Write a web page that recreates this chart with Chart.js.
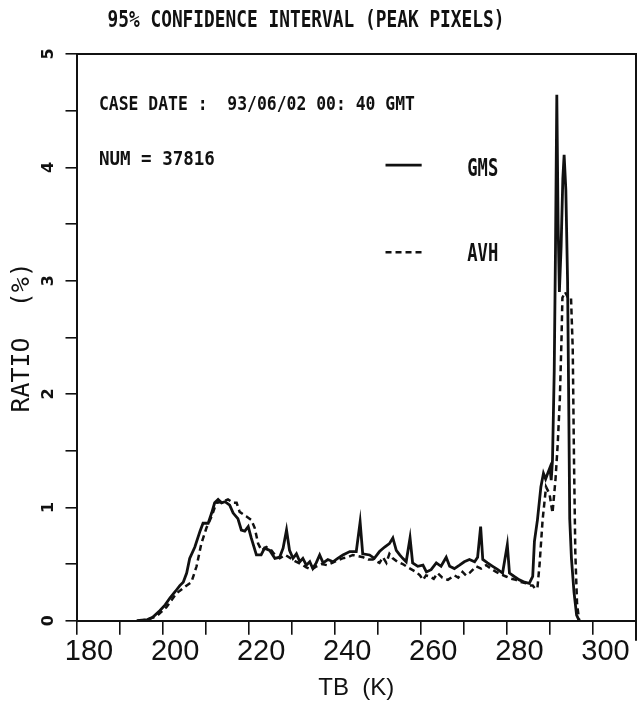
<!DOCTYPE html>
<html>
<head>
<meta charset="utf-8">
<script src="https://cdn.jsdelivr.net/npm/chart.js@4"></script>
<style>
html,body{margin:0;padding:0;background:#fff;}
#wrap{width:642px;height:703px;}
</style>
</head>
<body>
<div id="wrap"><canvas id="c" width="642" height="703"></canvas></div>
<script>
// ---------------- data ----------------
const xTickLabels = [180, 200, 220, 240, 260, 280, 300];
const yTickLabels = [0, 1, 2, 3, 4, 5];

const gmsTB = [194.0,196.5,197.7,199.4,200.6,201.7,203.0,204.0,204.8,205.6,206.3,207.5,208.7,209.4,210.6,211.4,212.1,212.9,213.7,214.5,215.6,216.4,217.5,218.3,219.1,219.9,220.6,221.8,222.9,223.7,224.9,226.1,227.2,228.0,228.8,229.5,230.3,231.1,231.9,232.6,233.4,234.2,234.9,235.7,236.5,237.3,238.4,239.6,240.7,241.9,243.5,245.0,245.9,246.5,248.1,249.2,250.4,251.6,252.7,253.5,254.3,255.1,255.8,256.6,257.5,258.1,259.3,260.5,261.3,262.4,263.6,264.7,265.9,266.7,267.8,269.0,270.1,271.3,272.5,273.2,273.9,274.4,275.5,276.7,277.9,279.0,280.1,280.6,281.7,282.9,284.1,285.2,286.0,286.4,287.1,287.9,288.5,289.0,289.5,290.0,290.3,290.6,291.0,291.3,291.6,291.9,292.2,292.6,293.0,293.3,293.7,294.1,294.4,294.6,295.0,295.6,296.2,296.8];
const gmsRatio = [0.00,0.01,0.03,0.09,0.14,0.20,0.26,0.31,0.34,0.42,0.55,0.65,0.79,0.86,0.86,0.95,1.04,1.07,1.04,1.05,1.02,0.95,0.90,0.80,0.79,0.83,0.73,0.58,0.58,0.64,0.62,0.55,0.56,0.64,0.80,0.62,0.55,0.59,0.52,0.55,0.49,0.52,0.46,0.51,0.58,0.51,0.54,0.52,0.55,0.58,0.61,0.61,0.87,0.59,0.58,0.55,0.61,0.65,0.68,0.73,0.62,0.58,0.55,0.52,0.73,0.51,0.48,0.49,0.43,0.45,0.51,0.48,0.56,0.48,0.46,0.49,0.52,0.54,0.52,0.56,0.83,0.54,0.51,0.48,0.45,0.42,0.67,0.42,0.39,0.36,0.34,0.33,0.39,0.70,0.89,1.18,1.30,1.25,1.30,1.35,1.24,1.42,2.20,3.30,4.64,3.50,2.90,3.30,3.90,4.11,3.80,3.00,1.80,0.90,0.55,0.25,0.05,0.00];

const avhTB = [194.5,196.5,198.6,200.9,203.2,205.2,206.7,207.9,209.0,210.2,211.4,212.5,214.1,215.2,216.4,217.2,217.9,219.5,220.6,221.4,222.2,223.0,224.1,225.3,226.1,227.2,228.5,229.8,231.0,232.2,233.4,234.6,235.8,237.0,238.2,239.4,240.6,241.8,243.0,244.2,245.4,246.6,247.8,248.9,250.4,251.2,252.0,252.7,253.5,254.6,255.8,257.0,258.9,259.8,260.5,261.2,262.0,263.0,263.9,265.0,266.3,267.8,268.7,269.7,270.5,271.3,272.1,272.9,274.0,275.2,276.3,277.5,278.6,279.8,281.0,282.1,283.3,284.5,285.3,286.0,286.6,287.1,287.6,288.3,289.1,289.9,290.6,291.3,291.8,292.3,292.7,292.9,293.5,294.2,294.9,295.3,295.6,295.9,296.3,296.8];
const avhRatio = [0.00,0.01,0.04,0.12,0.24,0.30,0.34,0.48,0.68,0.82,0.92,1.04,1.05,1.07,1.04,1.04,0.96,0.92,0.89,0.82,0.68,0.62,0.65,0.62,0.58,0.55,0.58,0.55,0.52,0.50,0.47,0.45,0.48,0.50,0.49,0.51,0.53,0.55,0.56,0.58,0.57,0.56,0.54,0.54,0.51,0.56,0.51,0.59,0.55,0.52,0.50,0.47,0.43,0.40,0.36,0.40,0.39,0.37,0.42,0.38,0.36,0.40,0.38,0.43,0.40,0.42,0.45,0.48,0.46,0.49,0.46,0.43,0.41,0.39,0.37,0.36,0.34,0.33,0.31,0.31,0.28,0.29,0.50,0.89,1.18,1.12,0.95,1.25,1.55,1.95,2.50,2.85,2.90,2.85,2.85,2.40,1.40,0.60,0.15,0.00];

// annotation texts and their positions in data units
const titleText = '95% CONFIDENCE INTERVAL (PEAK PIXELS)';
const caseText = 'CASE DATE :  93/06/02 00: 40 GMT';
const numText = 'NUM = 37816';
const textLeftTB = 185.2;
const caseBaseRatio = 4.51;
const numBaseRatio = 4.02;
const legendLineTB = [251.8, 260.2];
const legendLineRatio = [4.02, 3.25];
const legendTextTB = 270.8;
const legendTextBaseRatio = [3.92, 3.17];

// ---------------- chart ----------------
const INK = '#111';
const SANS = '"Liberation Sans", Arial, sans-serif';
const MONO = '"DejaVu Sans Mono", "Liberation Mono", monospace';
const toPts = (xs, ys) => xs.map((v, i) => ({x: v, y: ys[i]}));

const annotations = {
  id: 'annotations',
  afterDatasetsDraw(chart) {
    const {ctx, chartArea: a, scales: {x, y}} = chart;
    ctx.save();
    // frame: top and right edges
    ctx.strokeStyle = INK;
    ctx.lineWidth = 2;
    ctx.beginPath();
    ctx.moveTo(a.left, a.top);
    ctx.lineTo(a.right, a.top);
    ctx.lineTo(a.right, a.bottom + 20);
    ctx.stroke();

    ctx.fillStyle = INK;
    ctx.textAlign = 'left';
    ctx.textBaseline = 'alphabetic';

    // chart title (plotter style, condensed)
    ctx.font = 'bold 23px ' + MONO;
    ctx.fillText(titleText, a.left + 31, a.top - 27, 397);

    ctx.font = 'bold 20px ' + MONO;
    const lx = x.getPixelForValue(textLeftTB);
    ctx.fillText(caseText, lx, y.getPixelForValue(caseBaseRatio), 316);
    ctx.fillText(numText, lx, y.getPixelForValue(numBaseRatio), 116);

    // legend
    chart.data.datasets.forEach((ds, i) => {
      const yy = y.getPixelForValue(legendLineRatio[i]);
      ctx.beginPath();
      ctx.setLineDash(ds.borderDash || []);
      ctx.lineWidth = ds.borderWidth;
      ctx.strokeStyle = ds.borderColor;
      ctx.moveTo(x.getPixelForValue(legendLineTB[0]), yy);
      ctx.lineTo(x.getPixelForValue(legendLineTB[1]), yy);
      ctx.stroke();
      ctx.setLineDash([]);
      ctx.font = 'bold 24px ' + MONO;
      ctx.fillText(ds.label, x.getPixelForValue(legendTextTB), y.getPixelForValue(legendTextBaseRatio[i]), 31);
    });
    ctx.restore();
  }
};

new Chart(document.getElementById('c'), {
  type: 'scatter',
  data: {
    datasets: [
      {label: 'GMS', data: toPts(gmsTB, gmsRatio), showLine: true, borderColor: INK, borderWidth: 2.8,
       pointRadius: 0, tension: 0, fill: false},
      {label: 'AVH', data: toPts(avhTB, avhRatio), showLine: true, borderColor: INK, borderWidth: 2.5,
       borderDash: [6, 4], pointRadius: 0, tension: 0, fill: false}
    ]
  },
  options: {
    responsive: false,
    animation: false,
    devicePixelRatio: 1,
    layout: {padding: {left: 0, right: 5.5, top: 54, bottom: 0}},
    plugins: {
      legend: {display: false},
      tooltip: {enabled: false},
      title: {display: false}
    },
    scales: {
      x: {
        type: 'linear', position: 'bottom', min: 180, max: 310,
        afterFit: s => { s.height = 82.3; },
        ticks: {
          stepSize: 10, autoSkip: false, maxRotation: 0, minRotation: 0,
          labelOffset: 12.5, padding: 6, color: INK,
          font: {family: SANS, size: 29, lineHeight: 0.8},
          callback: v => xTickLabels.includes(v) ? String(v) : ''
        },
        grid: {display: true, drawOnChartArea: false, drawTicks: true, tickLength: 14, color: INK, lineWidth: 1.6},
        border: {display: true, color: INK, width: 2},
        title: {display: true, text: 'TB  (K)', color: INK,
          font: {family: SANS, size: 24, lineHeight: 1}, padding: {top: 0, bottom: 3}}
      },
      y: {
        type: 'linear', position: 'left', min: 0, max: 5,
        afterFit: s => { s.width = 76.5; },
        ticks: {
          stepSize: 0.5, autoSkip: false, minRotation: 90, maxRotation: 90, crossAlign: 'center',
          padding: 11, color: INK,
          font: {family: '"DejaVu Sans"', size: 16, weight: 'bold', lineHeight: 0.8},
          callback: v => yTickLabels.includes(v) ? String(v) : ''
        },
        grid: {display: true, drawOnChartArea: false, drawTicks: true, tickLength: 11, color: INK, lineWidth: 1.6},
        border: {display: true, color: INK, width: 2},
        title: {display: true, text: 'RATIO  (%)', color: INK,
          font: {family: MONO, size: 25, lineHeight: 1}, padding: {top: 10, bottom: 0}}
      }
    }
  },
  plugins: [annotations]
});
</script>
</body>
</html>
